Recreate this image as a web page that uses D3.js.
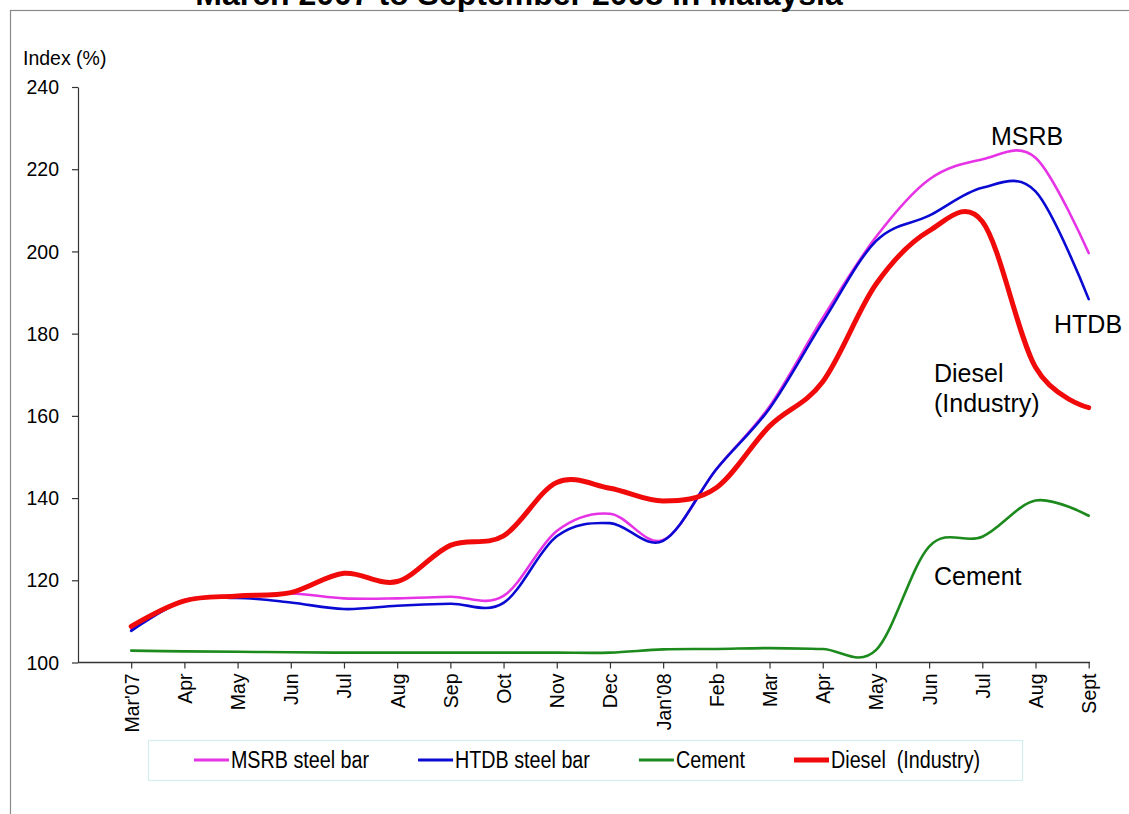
<!DOCTYPE html>
<html>
<head>
<meta charset="utf-8">
<script src="https://cdn.jsdelivr.net/npm/d3@7/dist/d3.min.js"></script>
<style>
  html, body { margin: 0; padding: 0; background: #fff; }
  svg { display: block; }
</style>
</head>
<body>
<svg id="chart" width="1129" height="814"></svg>
<script>
// ---- data ----
const months = ["Mar'07","Apr","May","Jun","Jul","Aug","Sep","Oct","Nov","Dec","Jan'08","Feb","Mar","Apr","May","Jun","Jul","Aug","Sept"];
const msrb   = [108.2,115.2,116.0,116.8,115.6,115.6,116.0,116.2,132.0,136.2,129.8,147.0,162.3,183.8,203.5,217.5,222.4,222.8,199.6];
const htdb   = [107.7,115.0,115.7,114.6,113.0,113.8,114.3,114.5,130.7,133.9,129.6,147.0,161.8,182.8,202.5,208.7,215.5,214.6,188.4];
const cement = [102.9,102.7,102.6,102.5,102.4,102.4,102.4,102.4,102.4,102.4,103.2,103.3,103.5,103.3,103.0,128.2,130.6,139.4,135.7];
const diesel = [108.8,115.0,116.2,117.0,121.7,119.7,128.5,130.8,143.8,142.4,139.3,142.5,157.5,168.3,192.0,205.0,207.3,171.8,162.0];
const yTicks = [100,120,140,160,180,200,220,240];
const seriesNames = ["MSRB steel bar","HTDB steel bar","Cement","Diesel  (Industry)"];
const endLabels = [["MSRB"],["HTDB"],["Cement"],["Diesel","(Industry)"]];
const titleText = "March 2007 to September 2008 in Malaysia";

// ---- setup ----
const svg = d3.select("#chart");
const axisLeftX = 78, axisRightX = 1090, yTop = 87, yBottom = 662.5;

const x = d3.scaleLinear().domain([-1, months.length - 1]).range([axisLeftX, 1088.7]);
const y = d3.scaleLinear().domain([100, 240]).range([yBottom, yTop]);

// frame
svg.append("rect").attr("x", 10.5).attr("y", 10.5).attr("width", 1300).attr("height", 1000)
  .attr("fill", "none").attr("stroke", "#8a8a8a").attr("stroke-width", 1.2);

// title (only its lower part is visible, as in the reference)
svg.append("text").attr("x", 519).attr("y", 5).attr("text-anchor", "middle")
  .attr("font-family", "Liberation Sans, Arial, sans-serif").attr("font-weight", "bold")
  .attr("font-size", 32).attr("fill", "#000").text(titleText);

const axisColor = "#333";

// y axis
const yAxis = d3.axisLeft(y).tickValues(yTicks).tickSize(6).tickSizeOuter(0);
const gy = svg.append("g").attr("transform", `translate(${axisLeftX},0)`).call(yAxis);
gy.select(".domain").attr("stroke", axisColor).attr("stroke-width", 1.2);
gy.selectAll(".tick line").attr("stroke", axisColor).attr("stroke-width", 1.2);
gy.selectAll(".tick text").attr("font-family", "Liberation Sans, Arial, sans-serif")
  .attr("font-size", 19.5).attr("fill", "#000").attr("x", -19).attr("dy", "0.34em");

svg.append("text").attr("x", 23).attr("y", 65)
  .attr("font-family", "Liberation Sans, Arial, sans-serif").attr("font-size", 19.5)
  .attr("fill", "#000").text("Index (%)");

// x axis
const gx = svg.append("g").attr("transform", `translate(0,${yBottom})`);
gx.append("line").attr("x1", axisLeftX).attr("x2", axisRightX).attr("y1", 0).attr("y2", 0)
  .attr("stroke", axisColor).attr("stroke-width", 1.4);
const xAxis = d3.axisBottom(x).tickValues(d3.range(months.length)).tickSize(6).tickSizeOuter(0)
  .tickFormat(i => months[i]);
const gxa = gx.append("g").call(xAxis);
gxa.select(".domain").remove();
gxa.selectAll(".tick line").attr("stroke", axisColor).attr("stroke-width", 1.2);
gxa.selectAll(".tick text")
  .attr("font-family", "Liberation Sans, Arial, sans-serif").attr("font-size", 19.5)
  .attr("fill", "#000")
  .attr("text-anchor", "end")
  .attr("transform", "translate(7,11) rotate(-90)")
  .attr("x", 0).attr("y", 0).attr("dy", 0);

// lines
const line = d3.line().x((d, i) => x(i)).y(d => y(d)).curve(d3.curveCardinal.tension(0));
const series = [
  {vals: msrb,   color: "#e633e6", w: 2.6},
  {vals: htdb,   color: "#0a0ad2", w: 2.6},
  {vals: cement, color: "#1d8a1d", w: 2.6},
  {vals: diesel, color: "#f00a0a", w: 5}
];
series.forEach(s => {
  svg.append("path").datum(s.vals).attr("d", line)
    .attr("fill", "none").attr("stroke", s.color).attr("stroke-width", s.w)
    .attr("stroke-linejoin", "round").attr("stroke-linecap", "round");
});

// end annotations
const annPos = [[991, 145], [1054, 333], [934, 585], [934, 382]];
endLabels.forEach((lines, k) => {
  lines.forEach((t, j) => {
    svg.append("text").attr("x", annPos[k][0]).attr("y", annPos[k][1] + j * 30)
      .attr("font-family", "Liberation Sans, Arial, sans-serif").attr("font-size", 25)
      .attr("fill", "#000").text(t);
  });
});

// legend
const lg = svg.append("g");
lg.append("rect").attr("x", 148.5).attr("y", 740.5).attr("width", 874).attr("height", 40)
  .attr("fill", "#fff").attr("stroke", "#d4eeee").attr("stroke-width", 1.2);
const items = lg.append("g");
let cx = 0;
const swW = 35, gapText = 2, gapItem = 49, sx = 0.84;
seriesNames.forEach((name, k) => {
  const g = items.append("g").attr("transform", `translate(${cx},0)`);
  g.append("line").attr("x1", 0).attr("x2", swW).attr("y1", 760).attr("y2", 760)
    .attr("stroke", series[k].color).attr("stroke-width", k === 3 ? 5 : 2.8);
  const t = g.append("text").attr("transform", `translate(${swW + gapText},768) scale(${sx},1)`)
    .attr("font-family", "Liberation Sans, Arial, sans-serif")
    .attr("font-size", 23.5).attr("fill", "#000")
    .style("white-space", "pre").text(name);
  cx += swW + gapText + t.node().getComputedTextLength() * sx + gapItem;
});
const totalW = cx - gapItem;
items.attr("transform", `translate(${587 - totalW / 2},0)`);
</script>
</body>
</html>
